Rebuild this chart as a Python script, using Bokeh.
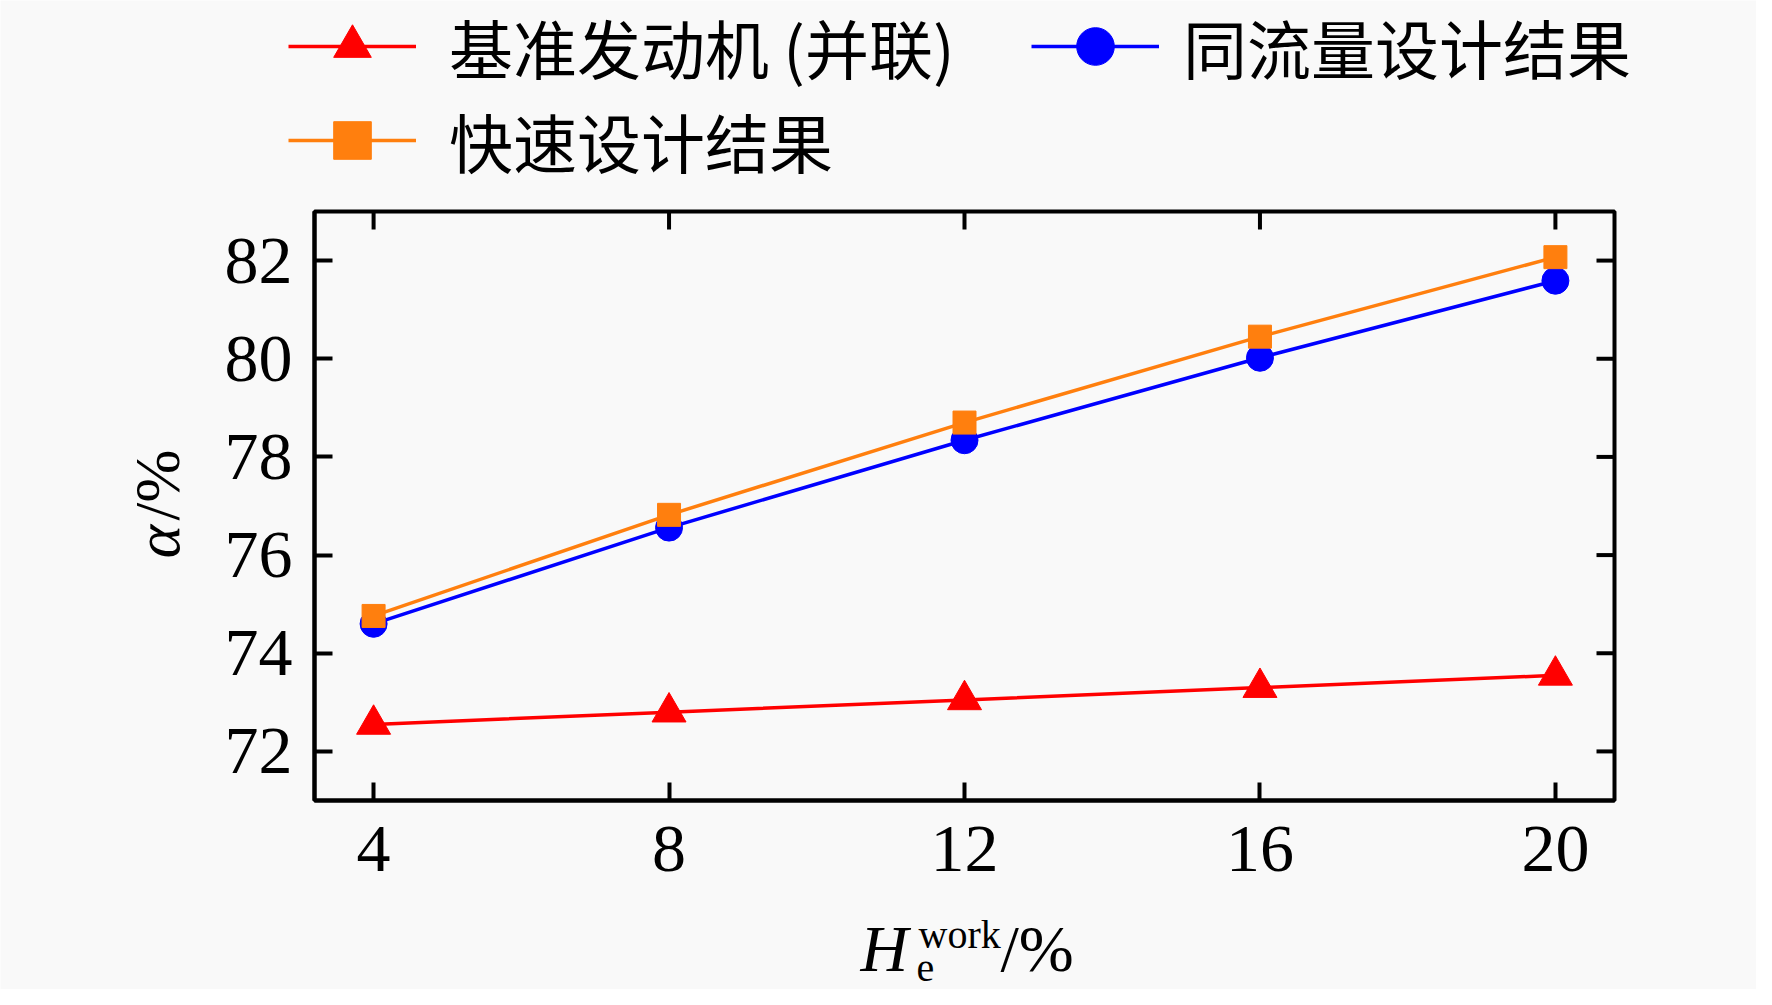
import math
from bokeh.plotting import figure
from bokeh.models import (Range1d, FixedTicker, Legend, LegendItem, Label, BoxAnnotation)
from bokeh.embed import file_html
from bokeh.resources import INLINE

# ---- data ----
x_vals = [4, 8, 12, 16, 20]
base_parallel = [72.55, 72.80, 73.05, 73.30, 73.55]
same_flow = [74.60, 76.56, 78.34, 80.02, 81.59]
fast_design = [74.76, 76.82, 78.70, 80.45, 82.07]
x_ticks = [4, 8, 12, 16, 20]
y_ticks = [72, 74, 76, 78, 80, 82]
x_lim = (3.2, 20.8)
y_lim = (71, 83)
legend_labels = ["基准发动机 (并联)", "同流量设计结果", "快速设计结果"]

RED = "#FF0000"
BLUE = "#0000FF"
ORANGE = "#FF7F0E"
BG = "#F9F9F9"

# ---- layout (pixels) ----
W, H = 1756, 989
BOX_L, BOX_R, BOX_T, BOX_B = 314, 1614, 211, 800
sx_per = (BOX_R - BOX_L) / (x_lim[1] - x_lim[0])
sy_per = (BOX_B - BOX_T) / (y_lim[1] - y_lim[0])
x_start = x_lim[0] - BOX_L / sx_per
x_end = x_start + W / sx_per
y_end = y_lim[1] + BOX_T / sy_per
y_start = y_end - H / sy_per

p = figure(frame_width=W, frame_height=H, output_backend="svg", toolbar_location=None,
           x_range=Range1d(x_start, x_end), y_range=Range1d(y_start, y_end),
           min_border_left=0, min_border_right=0, min_border_top=0, min_border_bottom=0,
           background_fill_color=BG, border_fill_color=BG)
p.xgrid.visible = False
p.ygrid.visible = False
p.outline_line_color = None

TICK = 18
LW = 4

def style_axis(ax, ticks, loc, bounds, standoff):
    ax.ticker = FixedTicker(ticks=ticks)
    ax.fixed_location = loc
    ax.bounds = bounds
    ax.axis_line_width = LW
    ax.axis_line_color = "black"
    ax.major_tick_line_width = LW
    ax.major_tick_line_color = "black"
    ax.major_tick_in = TICK
    ax.major_tick_out = 0
    ax.minor_tick_line_color = None
    ax.major_label_text_font = "Liberation Serif"
    ax.major_label_text_font_size = "68px"
    ax.major_label_text_color = "black"
    ax.major_label_standoff = standoff

style_axis(p.xaxis[0], x_ticks, y_lim[0], x_lim, 26)
style_axis(p.yaxis[0], y_ticks, x_lim[0], y_lim, 22)

# plot box and the inward ticks on the top and right sides
p.add_layout(BoxAnnotation(left=x_lim[0], right=x_lim[1], bottom=y_lim[0], top=y_lim[1],
                           fill_alpha=0, line_color="black", line_alpha=1.0, line_width=LW))
p.segment(x0=x_ticks, x1=x_ticks, y0=[y_lim[1]] * len(x_ticks),
          y1=[y_lim[1] - TICK / sy_per] * len(x_ticks), line_color="black", line_width=LW)
p.segment(x0=[x_lim[1]] * len(y_ticks), x1=[x_lim[1] - TICK / sx_per] * len(y_ticks),
          y0=y_ticks, y1=y_ticks, line_color="black", line_width=LW)

l1 = p.line(x_vals, base_parallel, line_color=RED, line_width=3.5)
m1 = p.scatter(x_vals, base_parallel, marker="triangle", size=34, fill_color=RED, line_color=RED)
l2 = p.line(x_vals, same_flow, line_color=BLUE, line_width=3.5)
m2 = p.scatter(x_vals, same_flow, marker="circle", size=27, fill_color=BLUE, line_color=BLUE)
l3 = p.line(x_vals, fast_design, line_color=ORANGE, line_width=3.5)
m3 = p.scatter(x_vals, fast_design, marker="square", size=23, fill_color=ORANGE, line_color=ORANGE)

def make_legend(label, renderers, img_x, img_cy, standoff):
    h = 94
    lg = Legend(items=[LegendItem(label=label, renderers=renderers)],
                location=(img_x, H - (img_cy + h / 2)),
                padding=0, margin=0, border_line_color=None, background_fill_alpha=0,
                glyph_width=128, glyph_height=h, label_height=h, label_standoff=standoff,
                label_text_font="Noto Sans CJK SC", label_text_font_size="64px",
                label_text_color="black")
    p.add_layout(lg, "center")

make_legend(legend_labels[0], [l1, m1], 288, 46, 33)
make_legend(legend_labels[1], [l2, m2], 1031, 46, 24)
make_legend(legend_labels[2], [l3, m3], 288, 140, 33)

def lab(img_x, img_y, text, size, italic=False, angle=0):
    p.add_layout(Label(x=img_x, y=H - img_y, x_units="screen", y_units="screen",
                       text=text, text_font="Liberation Serif",
                       text_font_style="italic" if italic else "normal",
                       text_font_size=f"{size}px", text_baseline="alphabetic", text_align="left",
                       text_color="black", angle=angle))

# x axis label: H_e^work/%
lab(860, 948, "H", 66, italic=True)
lab(916, 967, "e", 40)
lab(918, 934, "work", 40)
lab(1000, 948, "/%", 66)

# y axis label: α/%
lab(157, 558, "α", 64, italic=True, angle=math.pi / 2)
lab(157, 520, "/%", 64, angle=math.pi / 2)

open("out.html", "w").write(file_html(p, INLINE))
